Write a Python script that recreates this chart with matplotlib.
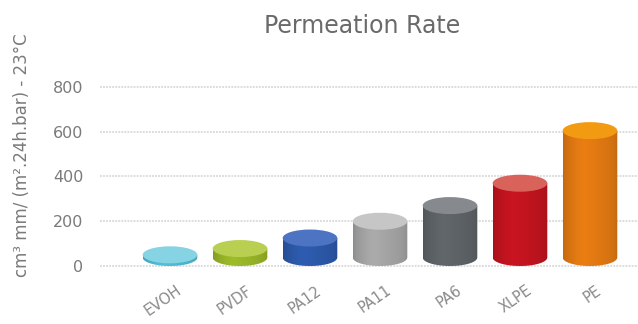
import numpy as np
import matplotlib
matplotlib.use("Agg")
from matplotlib import pyplot as plt
from matplotlib.path import Path
from matplotlib.patches import PathPatch, Ellipse
from matplotlib.colors import to_rgb

# data (value at the centre of each cylinder top)
categories = ["EVOH", "PVDF", "PA12", "PA11", "PA6", "XLPE", "PE"]
values = [50, 78, 125, 200, 270, 370, 605]
side_colors = ["#4cb8cf", "#97b328", "#2c58a8", "#a3a3a3", "#5d6267", "#c0141f", "#e07812"]
top_colors = ["#86d3e3", "#b9cf52", "#4c74c2", "#c6c6c6", "#868a8f", "#d9625a", "#f29b12"]
yticks = [0, 200, 400, 600, 800]

HALF_W = 0.39   # half width of a cylinder, in category units
RY = 38         # half height of the ellipses, in data units
TEXT_GREY = "#7a7a7a"


def shade(color, n=64):
    """horizontal gradient for the side of a cylinder"""
    t = np.linspace(0, 1, n)
    m = 0.86 + 0.14 * np.sin(np.pi * t) ** 0.5 + 0.05 * np.exp(-((t - 0.35) / 0.2) ** 2)
    rgb = np.array(to_rgb(color))
    row = np.clip(rgb[None, :] * m[:, None], 0, 1)
    return row[None, :, :]


def cylinder(ax, x, top, side, cap):
    base = RY
    th = np.linspace(np.pi, 2 * np.pi, 40)
    xs = x + HALF_W * np.cos(th)
    ys = base + RY * np.sin(th)
    verts = list(zip(xs, ys)) + [(x + HALF_W, top), (x - HALF_W, top), (xs[0], ys[0])]
    codes = [Path.MOVETO] + [Path.LINETO] * (len(verts) - 2) + [Path.CLOSEPOLY]
    body = PathPatch(Path(verts, codes), facecolor="none", edgecolor="none")
    ax.add_patch(body)
    img = ax.imshow(shade(side), extent=[x - HALF_W, x + HALF_W, base - RY, top],
                    aspect="auto", interpolation="bicubic", zorder=3)
    img.set_clip_path(body)
    ax.add_patch(Ellipse((x, top), 2 * HALF_W, 2 * RY, facecolor=cap,
                         edgecolor="none", zorder=4))


fig = plt.figure(figsize=(6.38, 3.24), dpi=100)
ax = fig.add_axes([100 / 638, 0.1514, 538 / 638, 0.6077])

for i, (v, s, c) in enumerate(zip(values, side_colors, top_colors)):
    cylinder(ax, i, v, s, c)

ax.set_xlim(-1.0, 6.686)
ax.set_ylim(-40, 840)
ax.set_yticks(yticks)
ax.set_yticklabels([str(t) for t in yticks], fontsize=11.5, color=TEXT_GREY)
ax.set_xticks([])
ax.tick_params(axis="y", length=0, pad=12)
for sp in ax.spines.values():
    sp.set_visible(False)
ax.grid(axis="y", color="#d2d2d2", linestyle=(0, (1.2, 0.8)), linewidth=1.1, zorder=0)
ax.set_axisbelow(True)

for i, name in enumerate(categories):
    ax.text(i + 0.08, -75, name, rotation=35, ha="right", va="top",
            rotation_mode="anchor", fontsize=10.5, color="#8a8a8a")

fig.text(22 / 638, 0.522, "cm³ mm/ (m².24h.bar) - 23°C", rotation=90,
         ha="center", va="center", fontsize=12, color=TEXT_GREY)
fig.text(362 / 638, 1 - 33 / 324, "Permeation Rate", ha="center", va="baseline",
         fontsize=17, color="#6a6a6a")

fig.savefig("out.png", dpi=100)
